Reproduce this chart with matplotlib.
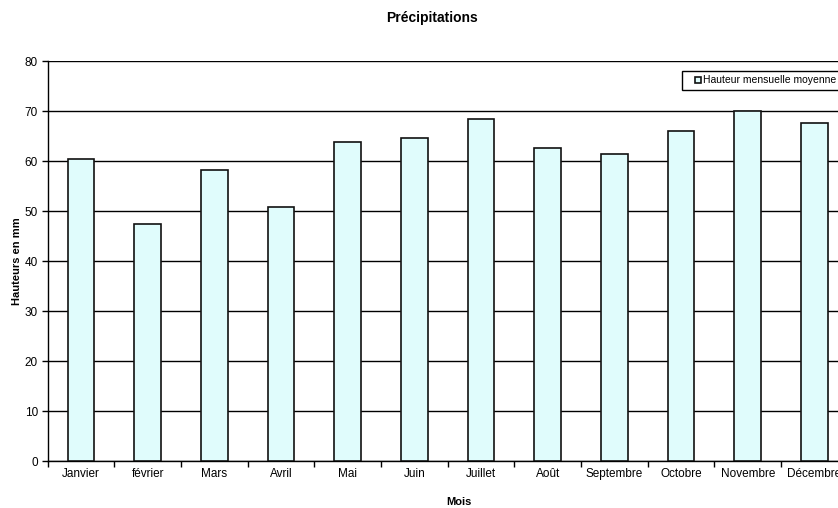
import matplotlib
matplotlib.use("Agg")
import matplotlib.pyplot as plt
from matplotlib.patches import Rectangle
import numpy as np

plt.rcParams['font.family'] = ['Liberation Sans', 'DejaVu Sans']

mois = ["Janvier", "février", "Mars", "Avril", "Mai", "Juin", "Juillet",
        "Août", "Septembre", "Octobre", "Novembre", "Décembre"]
hauteurs = [60.5, 47.4, 58.3, 50.8, 63.9, 64.6, 68.5, 62.7, 61.5, 66.1, 70.1, 67.7]
serie = "Hauteur mensuelle moyenne"

W, H = 838, 508
fig = plt.figure(figsize=(W / 100, H / 100), dpi=100)
ax = fig.add_axes([47.7 / W, 1 - 461 / H, 800 / W, 400 / H])

x = np.arange(len(mois))
ax.bar(x, hauteurs, width=0.4, color="#E0FCFC", edgecolor="#111111",
       linewidth=1.2, label=serie, zorder=3)

ax.set_xlim(-0.5, len(mois) - 0.5)
ax.set_ylim(0, 80)
ax.set_yticks(np.arange(0, 81, 10))
ax.grid(axis="y", color="black", linewidth=1.0, zorder=0)

ax.set_xticks(x)
ax.set_xticklabels(mois, fontsize=8.5)
ax.set_xticks(np.arange(-0.5, len(mois), 1), minor=True)
ax.tick_params(axis="x", which="major", length=0, pad=5)
ax.tick_params(axis="x", which="minor", length=4, width=1, direction="out")
ax.tick_params(axis="y", length=4, width=1, direction="out", labelsize=8.5, pad=3)

for side in ("top", "right"):
    ax.spines[side].set_visible(False)
ax.spines["left"].set_linewidth(1.0)
ax.spines["bottom"].set_linewidth(1.0)

ax.set_ylabel("Hauteurs en mm", fontsize=8, fontweight="bold", labelpad=2)
fig.text(459 / W, 1 - 502 / H, "Mois", ha="center", va="center",
         fontsize=8, fontweight="bold")
fig.text(432 / W, 1 - 18 / H, "Précipitations", ha="center", va="center",
         fontsize=10, fontweight="bold")

# legend box runs past the right edge of the figure
fig.patches.append(Rectangle((682 / W, 1 - 90 / H), 200 / W, 19 / H,
                             transform=fig.transFigure, facecolor="white",
                             edgecolor="black", linewidth=1.0, zorder=5))
leg = fig.legend(loc="center left", bbox_to_anchor=(695 / W, 1 - 80.5 / H),
                 fontsize=7.5, frameon=False, handlelength=0.6,
                 handleheight=0.6, handletextpad=0.2, borderpad=0,
                 borderaxespad=0)
leg.set_zorder(6)

fig.savefig("out.png", dpi=100)
